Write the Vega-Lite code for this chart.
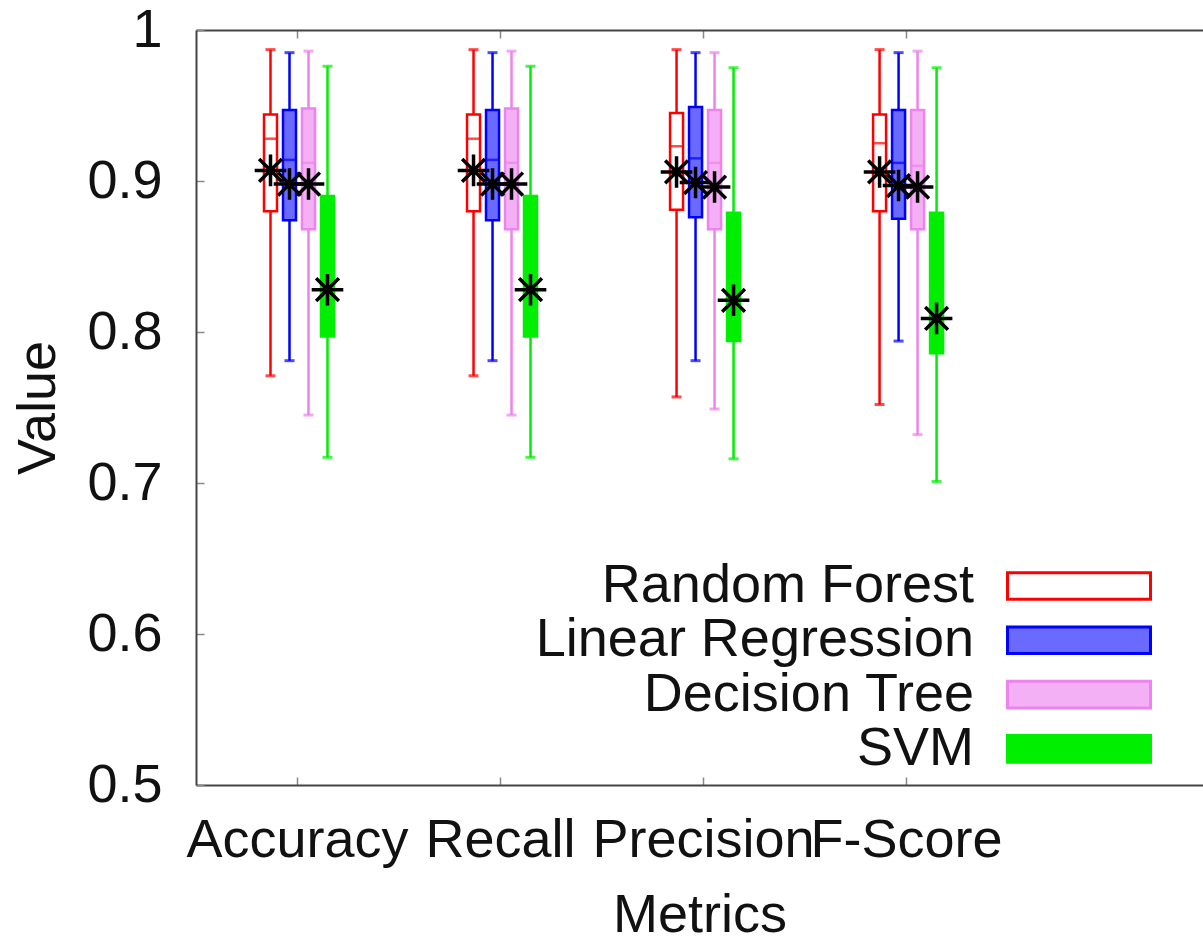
{
  "$schema": "https://vega.github.io/schema/vega-lite/v6.json",
  "width": 1007,
  "height": 755,
  "autosize": {"type": "none"},
  "padding": {"left": 196, "top": 30, "right": 0, "bottom": 158},
  "background": "white",
  "config": {
    "view": {"stroke": null},
    "font": "Liberation Sans",
    "axis": {
      "grid": false,
      "domainColor": "#444444",
      "domainWidth": 2,
      "tickColor": "#888888",
      "tickWidth": 1.5,
      "tickSize": -8,
      "labelFont": "Liberation Sans",
      "labelFontSize": 54,
      "labelColor": "#111111",
      "titleFont": "Liberation Sans",
      "titleFontSize": 54,
      "titleFontWeight": "normal",
      "titleColor": "#111111"
    },
    "legend": {
      "orient": "none",
      "legendX": 856,
      "legendY": 529,
      "padding": 0,
      "labelFont": "Liberation Sans",
      "labelFontSize": 54,
      "labelColor": "#111111",
      "labelAlign": "right",
      "labelOffset": -132,
      "labelLimit": 0,
      "symbolType": "M-5,-0.93H5V0.93H-5Z",
      "symbolSize": 818,
      "symbolStrokeWidth": 3,
      "symbolOpacity": 1,
      "rowPadding": 0.3
    }
  },
  "data": {
    "values": [
      {"metric": "Accuracy", "model": "Random Forest", "min": 0.771, "q1": 0.880, "median": 0.928, "q3": 0.944, "max": 0.987, "mean": 0.907},
      {"metric": "Accuracy", "model": "Linear Regression", "min": 0.781, "q1": 0.874, "median": 0.914, "q3": 0.947, "max": 0.985, "mean": 0.898},
      {"metric": "Accuracy", "model": "Decision Tree", "min": 0.745, "q1": 0.868, "median": 0.912, "q3": 0.948, "max": 0.986, "mean": 0.898},
      {"metric": "Accuracy", "model": "SVM", "min": 0.717, "q1": 0.797, "median": 0.840, "q3": 0.890, "max": 0.976, "mean": 0.828},
      {"metric": "Recall", "model": "Random Forest", "min": 0.771, "q1": 0.880, "median": 0.928, "q3": 0.944, "max": 0.987, "mean": 0.907},
      {"metric": "Recall", "model": "Linear Regression", "min": 0.781, "q1": 0.874, "median": 0.914, "q3": 0.947, "max": 0.985, "mean": 0.898},
      {"metric": "Recall", "model": "Decision Tree", "min": 0.745, "q1": 0.868, "median": 0.912, "q3": 0.948, "max": 0.986, "mean": 0.898},
      {"metric": "Recall", "model": "SVM", "min": 0.717, "q1": 0.797, "median": 0.840, "q3": 0.890, "max": 0.976, "mean": 0.828},
      {"metric": "Precision", "model": "Random Forest", "min": 0.757, "q1": 0.881, "median": 0.923, "q3": 0.945, "max": 0.987, "mean": 0.906},
      {"metric": "Precision", "model": "Linear Regression", "min": 0.781, "q1": 0.876, "median": 0.915, "q3": 0.949, "max": 0.985, "mean": 0.899},
      {"metric": "Precision", "model": "Decision Tree", "min": 0.749, "q1": 0.868, "median": 0.912, "q3": 0.947, "max": 0.985, "mean": 0.896},
      {"metric": "Precision", "model": "SVM", "min": 0.716, "q1": 0.794, "median": 0.830, "q3": 0.879, "max": 0.975, "mean": 0.821},
      {"metric": "F-Score", "model": "Random Forest", "min": 0.752, "q1": 0.880, "median": 0.925, "q3": 0.944, "max": 0.987, "mean": 0.906},
      {"metric": "F-Score", "model": "Linear Regression", "min": 0.794, "q1": 0.875, "median": 0.912, "q3": 0.947, "max": 0.985, "mean": 0.897},
      {"metric": "F-Score", "model": "Decision Tree", "min": 0.732, "q1": 0.868, "median": 0.910, "q3": 0.947, "max": 0.986, "mean": 0.896},
      {"metric": "F-Score", "model": "SVM", "min": 0.701, "q1": 0.786, "median": 0.820, "q3": 0.879, "max": 0.975, "mean": 0.809}
    ]
  },
  "resolve": {"axis": {"x": "independent"}},
  "layer": [
    {
      "mark": {"type": "rule", "strokeWidth": 2.5},
      "encoding": {
        "x": {"field": "metric", "type": "nominal", "sort": ["Accuracy", "Recall", "Precision", "F-Score"],
              "scale": {"paddingInner": 0, "paddingOuter": 0.48, "align": 0},
              "axis": {"orient": "bottom", "title": "Metrics", "labelAngle": 0, "labelPadding": 36, "labelOverlap": false, "labelBound": false, "labelLimit": 0, "titlePadding": 21}},
        "xOffset": {"field": "model", "type": "nominal", "sort": ["Random Forest", "Linear Regression", "Decision Tree", "SVM"], "scale": {"paddingInner": 0, "paddingOuter": 0, "range": [65, 141]}},
        "y": {"field": "min", "type": "quantitative", "scale": {"domain": [0.5, 1], "nice": false, "zero": false},
              "axis": {"title": "Value", "values": [0.5, 0.6, 0.7, 0.8, 0.9, 1], "format": ".1~f", "labelPadding": 42, "titlePadding": 21}},
        "y2": {"field": "max"},
        "color": {"field": "model", "type": "nominal", "sort": ["Random Forest", "Linear Regression", "Decision Tree", "SVM"],
                  "scale": {"range": ["#ff0000", "#0000ff", "#ee82ee", "#00ee00"]}, "legend": null}
      }
    },
    {
      "mark": {"type": "tick", "orient": "horizontal", "size": 10, "thickness": 3},
      "encoding": {
        "x": {"field": "metric", "type": "nominal", "sort": ["Accuracy", "Recall", "Precision", "F-Score"],
              "axis": {"orient": "top", "title": null, "labels": false, "domainWidth": 2}},
        "xOffset": {"field": "model", "type": "nominal", "sort": ["Random Forest", "Linear Regression", "Decision Tree", "SVM"]},
        "y": {"field": "min", "type": "quantitative", "title": "Value"},
        "color": {"field": "model", "type": "nominal", "sort": ["Random Forest", "Linear Regression", "Decision Tree", "SVM"], "legend": null}
      }
    },
    {
      "mark": {"type": "tick", "orient": "horizontal", "size": 10, "thickness": 3},
      "encoding": {
        "x": {"field": "metric", "type": "nominal", "sort": ["Accuracy", "Recall", "Precision", "F-Score"], "axis": null},
        "xOffset": {"field": "model", "type": "nominal", "sort": ["Random Forest", "Linear Regression", "Decision Tree", "SVM"]},
        "y": {"field": "max", "type": "quantitative", "title": "Value"},
        "color": {"field": "model", "type": "nominal", "sort": ["Random Forest", "Linear Regression", "Decision Tree", "SVM"], "legend": null}
      }
    },
    {
      "mark": {"type": "bar", "width": 13, "strokeWidth": 2.5},
      "encoding": {
        "x": {"field": "metric", "type": "nominal", "sort": ["Accuracy", "Recall", "Precision", "F-Score"], "axis": null},
        "xOffset": {"field": "model", "type": "nominal", "sort": ["Random Forest", "Linear Regression", "Decision Tree", "SVM"]},
        "y": {"field": "q1", "type": "quantitative", "title": "Value"},
        "y2": {"field": "q3"},
        "fill": {"field": "model", "type": "nominal",
                 "scale": {"domain": ["Random Forest", "Linear Regression", "Decision Tree", "SVM"], "range": ["#ffffff", "#6a6aff", "#f4b0f4", "#00ee00"]},
                 "legend": {"title": null}},
        "stroke": {"field": "model", "type": "nominal",
                   "scale": {"domain": ["Random Forest", "Linear Regression", "Decision Tree", "SVM"], "range": ["#ff0000", "#0000ff", "#ee82ee", "#00ee00"]},
                   "legend": {"title": null}}
      }
    },
    {
      "mark": {"type": "tick", "orient": "horizontal", "size": 13, "thickness": 2.5},
      "encoding": {
        "x": {"field": "metric", "type": "nominal", "sort": ["Accuracy", "Recall", "Precision", "F-Score"], "axis": null},
        "xOffset": {"field": "model", "type": "nominal", "sort": ["Random Forest", "Linear Regression", "Decision Tree", "SVM"]},
        "y": {"field": "median", "type": "quantitative", "title": "Value"},
        "color": {"field": "model", "type": "nominal", "sort": ["Random Forest", "Linear Regression", "Decision Tree", "SVM"], "legend": null}
      }
    },
    {
      "mark": {"type": "point", "shape": "M-1,0H1M0,-1V1M-0.72,-0.72L0.72,0.72M-0.72,0.72L0.72,-0.72", "filled": false, "stroke": "#000000", "strokeWidth": 3.5, "size": 1000, "opacity": 1},
      "encoding": {
        "x": {"field": "metric", "type": "nominal", "sort": ["Accuracy", "Recall", "Precision", "F-Score"], "axis": null},
        "xOffset": {"field": "model", "type": "nominal", "sort": ["Random Forest", "Linear Regression", "Decision Tree", "SVM"]},
        "y": {"field": "mean", "type": "quantitative", "title": "Value"}
      }
    }
  ]
}
